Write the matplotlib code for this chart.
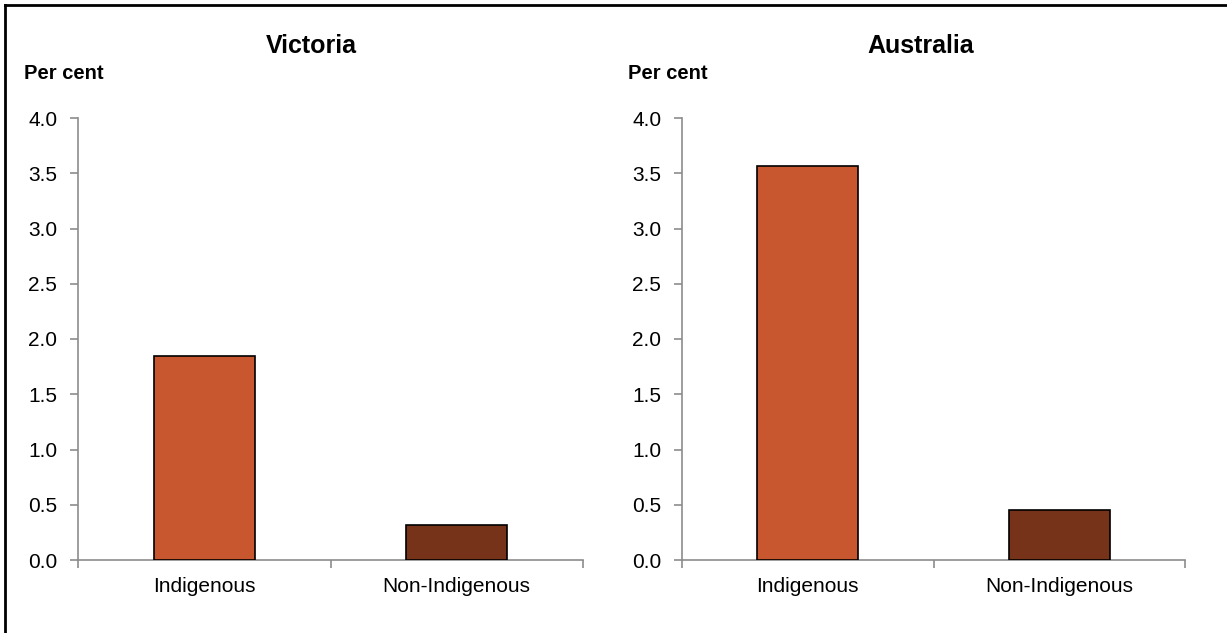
import matplotlib.pyplot as plt
from matplotlib.lines import Line2D

# Data
categories = ['Indigenous', 'Non-Indigenous']
victoria = [1.85, 0.32]
australia = [3.57, 0.45]
panel_titles = ['Victoria', 'Australia']
y_ticks = [0.0, 0.5, 1.0, 1.5, 2.0, 2.5, 3.0, 3.5, 4.0]

bar_colors = ['#C8562E', '#77321A']
axis_grey = '#8C8C8C'

plt.rcParams['font.family'] = ['Liberation Sans', 'DejaVu Sans']

W, H = 1227, 633
fig = plt.figure(figsize=(W / 100, H / 100), dpi=100)

# border: only top and left edges show in the reference
fig.add_artist(Line2D([5 / W, 1.0], [1 - 5 / H, 1 - 5 / H], transform=fig.transFigure,
                      color='black', linewidth=2))
fig.add_artist(Line2D([5 / W, 5 / W], [0.0, 1 - 5 / H], transform=fig.transFigure,
                      color='black', linewidth=2))

positions = [[78 / W, 1 - 560 / H, 505 / W, 442 / H], [682 / W, 1 - 560 / H, 503 / W, 442 / H]]
title_x = [311 / W, 921 / W]
perc_x = [24 / W, 628 / W]

for pos, title, values, tx, px in zip(positions, panel_titles, [victoria, australia], title_x, perc_x):
    ax = fig.add_axes(pos)
    x = range(len(categories))
    ax.bar(x, values, width=0.4, color=bar_colors, edgecolor='black', linewidth=1.2, zorder=3)
    ax.set_xlim(-0.5, 1.5)
    ax.set_ylim(0, 4.0)
    ax.set_yticks(y_ticks)
    ax.set_yticklabels([f'{v:.1f}' for v in y_ticks], fontsize=15)
    ax.set_xticks(list(x))
    ax.set_xticklabels(categories, fontsize=15)
    ax.set_xticks([-0.5, 0.5, 1.5], minor=True)
    ax.tick_params(axis='x', which='major', length=0, pad=12)
    ax.tick_params(axis='x', which='minor', length=6, color=axis_grey, width=1.2)
    ax.tick_params(axis='y', length=6, color=axis_grey, width=1.2, pad=9)
    for side in ['top', 'right']:
        ax.spines[side].set_visible(False)
    for side in ['left', 'bottom']:
        ax.spines[side].set_color(axis_grey)
        ax.spines[side].set_linewidth(1.2)
    fig.text(tx, 1 - 53 / H, title, fontsize=18, fontweight='bold', ha='center', va='baseline')
    fig.text(px, 1 - 79 / H, 'Per cent', fontsize=14.5, fontweight='bold', ha='left', va='baseline')

fig.savefig('out.png', dpi=100)
